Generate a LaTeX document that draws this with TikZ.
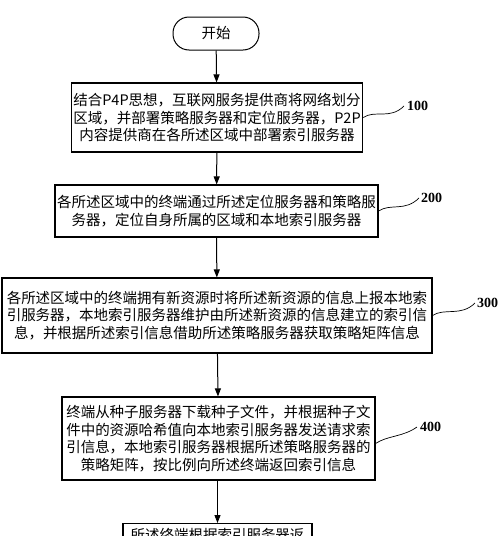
\documentclass[tikz,border=0pt]{standalone}
\usepackage{fontspec}
\setmainfont{Liberation Serif}
\newfontfamily\cjk{Noto Sans CJK SC}
\usetikzlibrary{arrows.meta}

\begin{document}
\begin{tikzpicture}[x=1pt,y=-1pt]
					\tikzset{>={Triangle[length=8pt,width=6pt]}}
					\tikzset{stepbox/.style={draw,line width=1.1pt,align=center,inner sep=2pt,font=\cjk\fontsize{14.5}{17.5}\selectfont}}
					\tikzset{startbox/.style={draw,line width=1pt,rounded corners=16pt,font=\cjk\fontsize{14.5}{17.5}\selectfont}}
					\tikzset{tag/.style={anchor=west,inner sep=0pt,font=\bfseries\fontsize{14}{14}\selectfont}}
					\tikzset{wave/.style={line width=0.7pt}}
					\useasboundingbox (0,0) rectangle (500,536);
					% start and steps
					\node[startbox,minimum width=86pt,minimum height=33pt] (start) at (216,33.5) {开始};
					\node[stepbox,minimum width=290pt,minimum height=69pt] (s100) at (217,117.5) {结合P4P思想，互联网服务提供商将网络划分\\区域，并部署策略服务器和定位服务器，P2P\\内容提供商在各所述区域中部署索引服务器};
					\node[stepbox,minimum width=323pt,minimum height=52pt] (s200) at (216.5,211) {各所述区域中的终端通过所述定位服务器和策略服\\务器，定位自身所属的区域和本地索引服务器};
					\node[stepbox,minimum width=430pt,minimum height=75pt] (s300) at (217,315.5) {各所述区域中的终端拥有新资源时将所述新资源的信息上报本地索\\引服务器，本地索引服务器维护由所述新资源的信息建立的索引信\\息，并根据所述索引信息借助所述策略服务器获取策略矩阵信息};
					\node[stepbox,minimum width=313pt,minimum height=83pt] (s400) at (218.5,438.5) {终端从种子服务器下载种子文件，并根据种子文\\件中的资源哈希值向本地索引服务器发送请求索\\引信息，本地索引服务器根据所述策略服务器的\\策略矩阵，按比例向所述终端返回索引信息};
					\node[stepbox,anchor=north,minimum width=189pt,inner ysep=5pt] (s500) at (217.5,523) {所述终端根据索引服务器返};
					% arrows
					\draw[->,line width=1pt] (start) -- (s100);
					\draw[->,line width=1pt] (s100) -- (s200);
					\draw[->,line width=1pt] (s200) -- (s300);
					\draw[->,line width=1pt] (s300) -- (s400);
					\draw[->,line width=1pt] (s400.south -| s500.north) -- (s500.north);
					% step numbers
					\node[tag] (l100) at (407,106) {100};
					\node[tag] (l200) at (421,198) {200};
					\node[tag] (l300) at (477,303) {300};
					\node[tag] (l400) at (420,427) {400};
					\draw[wave] (s100.east) .. controls +(12,-8) and +(-14,14) .. ([xshift=-3pt]l100.west);
					\draw[wave] (s200.east) .. controls +(12,-8) and +(-14,14) .. ([xshift=-2pt]l200.west);
					\draw[wave] (s300.east) .. controls +(12,-8) and +(-14,14) .. ([xshift=-2pt]l300.west);
					\draw[wave] ([yshift=-5pt]s400.east) .. controls +(12,-8) and +(-14,10) .. ([xshift=-3pt]l400.west);
				\end{tikzpicture}
\end{document}
